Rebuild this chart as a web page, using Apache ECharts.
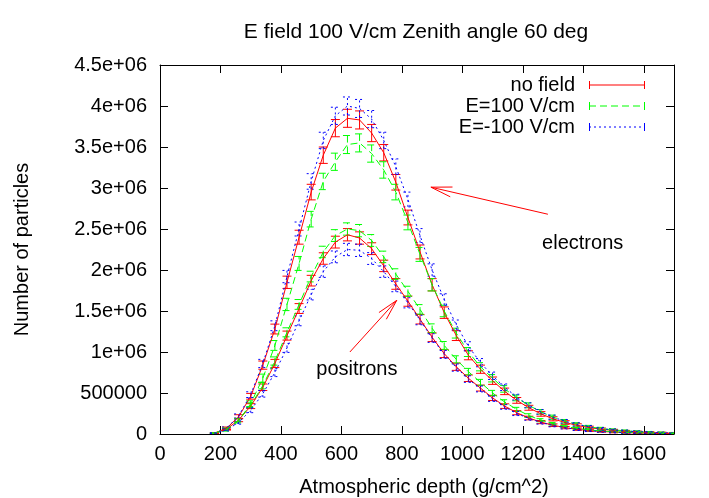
<!DOCTYPE html>
<html>
<head>
<meta charset="utf-8">
<script src="https://cdn.jsdelivr.net/npm/echarts@6/dist/echarts.min.js"></script>
<style>
  html, body { margin: 0; padding: 0; background: #fff; }
  #main { width: 709px; height: 498px; }
</style>
</head>
<body>
<div id="main"></div>
<script>
// slant atmospheric depth, g/cm^2
const depth = [180, 220, 260, 300, 340, 380, 420, 460, 500, 540, 580, 620, 660, 700, 740, 780, 820, 860, 900, 940,
  980, 1020, 1060, 1100, 1140, 1180, 1220, 1260, 1300, 1340, 1380, 1420, 1460, 1500, 1540, 1580, 1620, 1660, 1700];

// particle counts, in millions
const elecNoField = [0.01, 0.07, 0.21, 0.46, 0.84, 1.28, 1.85, 2.40, 2.95, 3.40, 3.73, 3.85, 3.83, 3.67, 3.43, 3.07, 2.64, 2.22, 1.82, 1.48,
  1.20, 0.96, 0.79, 0.65, 0.52, 0.41, 0.32, 0.245, 0.185, 0.14, 0.105, 0.078, 0.058, 0.044, 0.033, 0.025, 0.019, 0.014, 0.010];
const elecPlus = [0.01, 0.05, 0.16, 0.37, 0.68, 1.08, 1.58, 2.08, 2.62, 3.08, 3.32, 3.53, 3.55, 3.42, 3.22, 2.95, 2.58, 2.19, 1.82, 1.50,
  1.23, 1.00, 0.82, 0.68, 0.55, 0.44, 0.35, 0.27, 0.205, 0.155, 0.118, 0.088, 0.066, 0.05, 0.038, 0.029, 0.022, 0.016, 0.012];
const elecMinus = [0.01, 0.07, 0.22, 0.48, 0.86, 1.32, 1.92, 2.50, 3.08, 3.58, 3.88, 4.00, 3.97, 3.84, 3.58, 3.26, 2.86, 2.42, 2.00, 1.64,
  1.33, 1.07, 0.87, 0.71, 0.57, 0.45, 0.35, 0.27, 0.205, 0.155, 0.117, 0.087, 0.065, 0.049, 0.037, 0.028, 0.021, 0.015, 0.011];
const posiNoField = [0.01, 0.06, 0.17, 0.34, 0.57, 0.86, 1.20, 1.53, 1.87, 2.14, 2.34, 2.43, 2.39, 2.26, 2.05, 1.83, 1.62, 1.40, 1.18, 0.98,
  0.82, 0.68, 0.56, 0.44, 0.34, 0.26, 0.195, 0.145, 0.107, 0.078, 0.057, 0.042, 0.031, 0.023, 0.017, 0.012, 0.009, 0.006, 0.004];
const posiPlus = [0.01, 0.06, 0.17, 0.35, 0.59, 0.89, 1.24, 1.58, 1.92, 2.22, 2.42, 2.50, 2.48, 2.36, 2.16, 1.95, 1.74, 1.52, 1.29, 1.08,
  0.91, 0.76, 0.63, 0.50, 0.39, 0.30, 0.225, 0.168, 0.125, 0.092, 0.068, 0.05, 0.037, 0.027, 0.02, 0.015, 0.011, 0.008, 0.005];
const posiMinus = [0.01, 0.05, 0.14, 0.29, 0.49, 0.75, 1.05, 1.38, 1.70, 1.98, 2.16, 2.25, 2.24, 2.14, 1.98, 1.80, 1.60, 1.39, 1.17, 0.97,
  0.81, 0.67, 0.55, 0.43, 0.33, 0.25, 0.19, 0.14, 0.104, 0.076, 0.055, 0.04, 0.03, 0.022, 0.016, 0.011, 0.008, 0.006, 0.004];

// error bar half heights, in millions
const elecErr = [0.005, 0.015, 0.025, 0.035, 0.05, 0.06, 0.075, 0.085, 0.095, 0.1, 0.105, 0.11, 0.11, 0.105, 0.1, 0.095, 0.09, 0.085, 0.075, 0.07,
  0.06, 0.055, 0.05, 0.045, 0.04, 0.035, 0.03, 0.028, 0.025, 0.022, 0.02, 0.017, 0.015, 0.013, 0.011, 0.01, 0.009, 0.008, 0.007];
const posiErr = [0.005, 0.012, 0.02, 0.03, 0.04, 0.05, 0.055, 0.06, 0.065, 0.07, 0.072, 0.075, 0.075, 0.072, 0.07, 0.065, 0.062, 0.058, 0.053, 0.048,
  0.044, 0.04, 0.036, 0.032, 0.028, 0.025, 0.022, 0.019, 0.016, 0.014, 0.012, 0.01, 0.009, 0.008, 0.007, 0.006, 0.005, 0.004, 0.003];

const seriesNames = ["no field", "E=100 V/cm", "E=-100 V/cm"];
const yTickLabels = ["0", "500000", "1e+06", "1.5e+06", "2e+06", "2.5e+06", "3e+06", "3.5e+06", "4e+06", "4.5e+06"];

const MILLION = 1e6;
const FONT = "Liberation Sans, Arial, Helvetica, sans-serif";
const colors = ["#ff0000", "#00ff00", "#0000ff"];
const dashes = [null, [7, 4], [2, 3]];

// annotation placement (data coords)
const arrows = [
  { from: [1283, 2.68e6], to: [896, 3.01e6] },
  { from: [628, 1.0e6], to: [783, 1.63e6] }
];
const notes = [
  { name: "electrons", coord: [1398, 2.32e6] },
  { name: "positrons", coord: [651, 0.79e6] }
];

const toPoints = (vals, err) => depth.map((d, i) => [d, vals[i] * MILLION, err[i] * MILLION]);

// gnuplot style legend sample: horizontal bar with end caps
function legendIcon(dash) {
  const W = 56;
  let p = "path://M0,0h1v8h-1z M" + (W - 1) + ",0h1v8h-1z";
  if (!dash) {
    p += " M0,3.5h" + W + "v1h-" + W + "z";
  } else {
    for (let x = 0; x < W; x += dash[0] + dash[1]) {
      const w = Math.min(dash[0], W - x);
      p += " M" + x + ",3.5h" + w + "v1h-" + w + "z";
    }
  }
  return p;
}

function errBars(color, dash) {
  return function (params, api) {
    const x = api.value(0), y = api.value(1), e = api.value(2);
    const lo = api.coord([x, y - e]);
    const hi = api.coord([x, y + e]);
    const w = 4.5;
    const style = { stroke: color, lineWidth: 1, lineDash: dash || null, fill: null };
    return {
      type: "group",
      children: [
        { type: "line", shape: { x1: lo[0], y1: lo[1], x2: hi[0], y2: hi[1] }, style: style },
        { type: "line", shape: { x1: lo[0] - w, y1: lo[1], x2: lo[0] + w, y2: lo[1] }, style: style },
        { type: "line", shape: { x1: hi[0] - w, y1: hi[1], x2: hi[0] + w, y2: hi[1] }, style: style }
      ]
    };
  };
}

const groups = [
  [elecNoField, elecPlus, elecMinus, elecErr],
  [posiNoField, posiPlus, posiMinus, posiErr]
];

const lineSeries = [];
const barSeries = [];
groups.forEach(function (g) {
  for (let k = 0; k < 3; k++) {
    const pts = toPoints(g[k], g[3]);
    lineSeries.push({
      name: seriesNames[k],
      type: "line",
      data: pts.map(p => [p[0], p[1]]),
      showSymbol: false,
      color: colors[k],
      lineStyle: { color: colors[k], width: 1, type: dashes[k] || "solid" },
      z: 3
    });
    barSeries.push({
      name: seriesNames[k],
      type: "custom",
      data: pts,
      encode: { x: 0, y: 1 },
      renderItem: errBars(colors[k], dashes[k]),
      clip: true,
      silent: true,
      z: 2
    });
  }
});

lineSeries[0].markPoint = {
  silent: true,
  symbol: "circle",
  symbolSize: 1,
  itemStyle: { color: "transparent" },
  label: {
    show: true, position: "inside", color: "#000", fontSize: 20, fontFamily: FONT,
    formatter: p => p.name
  },
  data: notes.map(n => ({ name: n.name, coord: n.coord }))
};

const axisLine = { show: true, onZero: false, lineStyle: { color: "#000", width: 1 } };
const axisTick = { show: true, inside: true, length: 8, lineStyle: { color: "#000", width: 1 } };

const chart = echarts.init(document.getElementById("main"));
const option = {
  animation: false,
  backgroundColor: "#fff",
  title: {
    text: "E field 100 V/cm Zenith angle 60 deg",
    left: 416,
    top: 22,
    padding: 0,
    textAlign: "center",
    textStyle: { fontSize: 21, fontWeight: "normal", color: "#000", fontFamily: FONT }
  },
  grid: { left: 160, right: 35, top: 65, bottom: 64, containLabel: false, outerBoundsMode: "none" },
  legend: {
    orient: "vertical",
    right: 59,
    top: 70,
    align: "right",
    itemWidth: 56,
    itemHeight: 8,
    itemGap: 1,
    selectedMode: false,
    itemStyle: { borderWidth: 0 },
    textStyle: { fontSize: 20, color: "#000", fontFamily: FONT, lineHeight: 20, padding: [0, 9, 0, 0] },
    data: seriesNames.map((n, k) => ({ name: n, icon: legendIcon(dashes[k]) }))
  },
  xAxis: [
    {
      type: "value", min: 0, max: 1700, interval: 200, position: "bottom",
      axisLine: axisLine, axisTick: axisTick, splitLine: { show: false },
      axisLabel: { color: "#000", fontSize: 20, fontFamily: FONT, margin: 10, showMaxLabel: false, formatter: v => String(v) },
      name: "Atmospheric depth (g/cm^2)", nameLocation: "middle", nameGap: 43,
      nameTextStyle: { fontSize: 20, color: "#000", fontFamily: FONT, padding: [0, 0, 0, 14] }
    },
    {
      type: "value", min: 0, max: 1700, interval: 200, position: "top",
      axisLine: axisLine, axisTick: axisTick, splitLine: { show: false }, axisLabel: { show: false }
    }
  ],
  yAxis: [
    {
      type: "value", min: 0, max: 4.5e6, interval: 5e5, position: "left",
      axisLine: axisLine, axisTick: axisTick, splitLine: { show: false },
      axisLabel: {
        color: "#000", fontSize: 20, fontFamily: FONT, margin: 13,
        formatter: v => yTickLabels[Math.round(v / 5e5)]
      },
      name: "Number of particles", nameLocation: "middle", nameGap: 128,
      nameTextStyle: { fontSize: 20, color: "#000", fontFamily: FONT }
    },
    {
      type: "value", min: 0, max: 4.5e6, interval: 5e5, position: "right",
      axisLine: axisLine, axisTick: axisTick, splitLine: { show: false }, axisLabel: { show: false }
    }
  ],
  series: lineSeries.concat(barSeries)
};
chart.setOption(option);

// annotation arrows: shaft plus two open barbs at the tip, like gnuplot's default head
const HEAD_LEN = 21, HEAD_HALF = 5;
const arrowShapes = [];
arrows.forEach(function (a) {
  const p0 = chart.convertToPixel({ gridIndex: 0 }, a.from);
  const p1 = chart.convertToPixel({ gridIndex: 0 }, a.to);
  const dx = p1[0] - p0[0], dy = p1[1] - p0[1];
  const len = Math.sqrt(dx * dx + dy * dy);
  const ux = dx / len, uy = dy / len;
  const bx = p1[0] - ux * HEAD_LEN, by = p1[1] - uy * HEAD_LEN;
  const style = { stroke: "#ff0000", lineWidth: 1, fill: null };
  arrowShapes.push({ type: "line", silent: true, z: 10, shape: { x1: p0[0], y1: p0[1], x2: p1[0], y2: p1[1] }, style: style });
  arrowShapes.push({ type: "polyline", silent: true, z: 10, shape: { points: [
    [bx - uy * HEAD_HALF, by + ux * HEAD_HALF], [p1[0], p1[1]], [bx + uy * HEAD_HALF, by - ux * HEAD_HALF]
  ] }, style: style });
});
chart.setOption({ graphic: arrowShapes });
</script>
</body>
</html>
